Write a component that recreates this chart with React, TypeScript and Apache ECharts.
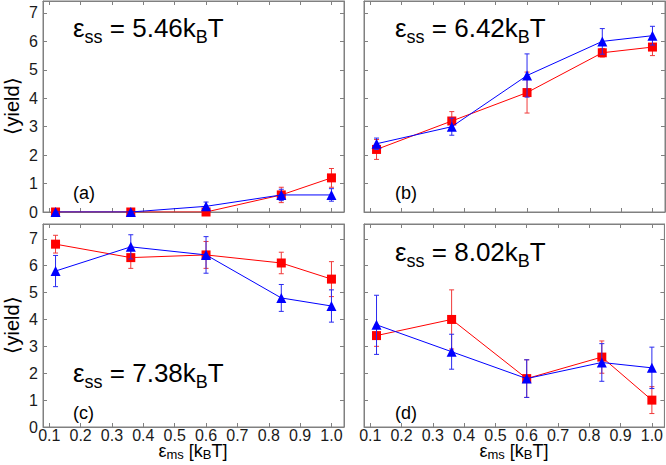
import React, { useEffect, useRef } from 'react';
import * as echarts from 'echarts';

const xValues = [0.12, 0.36, 0.6, 0.84, 1.0];
const xTicks = [0.1, 0.2, 0.3, 0.4, 0.5, 0.6, 0.7, 0.8, 0.9, 1.0];
const yTicks = [0, 1, 2, 3, 4, 5, 6, 7];
const energies = ['5.46', '6.42', '7.38', '8.02'];
const panelTags = ['(a)', '(b)', '(c)', '(d)'];

const redA = [0, 0, 0, 0.6, 1.2];
const redAErr = [0, 0, 0, 0.27, 0.33];
const blueA = [0, 0, 0.2, 0.6, 0.6];
const blueAErr = [0, 0, 0.15, 0.2, 0.22];

const redB = [2.2, 3.2, 4.2, 5.6, 5.8];
const redBErr = [0.35, 0.33, 0.72, 0.15, 0.3];
const blueB = [2.4, 3.0, 4.8, 6.0, 6.2];
const blueBErr = [0.2, 0.3, 0.76, 0.45, 0.33];

const redC = [6.8, 6.3, 6.4, 6.1, 5.5];
const redCErr = [0.33, 0.4, 0.5, 0.4, 0.65];
const blueC = [5.8, 6.7, 6.4, 4.8, 4.5];
const blueCErr = [0.58, 0.45, 0.68, 0.5, 0.6];

const redD = [3.4, 4.0, 1.8, 2.6, 1.0];
const redDErr = [0.4, 1.1, 0.7, 0.6, 0.5];
const blueD = [3.8, 2.8, 1.8, 2.4, 2.2];
const blueDErr = [1.1, 0.65, 0.7, 0.7, 0.77];

const redSets = [redA, redB, redC, redD];
const redErrs = [redAErr, redBErr, redCErr, redDErr];
const blueSets = [blueA, blueB, blueC, blueD];
const blueErrs = [blueAErr, blueBErr, blueCErr, blueDErr];

const FONT = "'Liberation Sans', Arial, Helvetica, sans-serif";
const RED = '#ff0000';
const BLUE = '#0000ff';
const RED_ERR = '#f03a3a';
const BLUE_ERR = '#2a2af0';
const FRAME = '#808080';

const grids = [
  { left: 43, top: 1, width: 301, height: 211 },
  { left: 364, top: 1, width: 301, height: 211 },
  { left: 43, top: 224, width: 301, height: 203 },
  { left: 364, top: 224, width: 301, height: 203 },
];
const yMax = [7.42, 7.42, 7.55, 7.55];

function buildOption() {
  const xAxis: any[] = [];
  const yAxis: any[] = [];
  const series: any[] = [];
  const lineStyle = { color: FRAME, width: 1 };
  for (let i = 0; i < 4; i++) {
    const xb = {
      type: 'value', gridIndex: i, min: 0.08, max: 1.04,
      splitLine: { show: false },
      axisLine: { show: true, onZero: false, lineStyle },
      axisTick: { show: true, inside: true, length: 4, customValues: xTicks, lineStyle },
    };
    xAxis.push({
      ...xb, position: 'bottom',
      axisLabel: {
        show: i >= 2, customValues: xTicks, margin: 0, fontSize: 16, color: '#1a1a1a', fontFamily: FONT,
        formatter: (v: number) => v.toFixed(1),
      },
    });
    xAxis.push({ ...xb, position: 'top', axisLabel: { show: false } });
    const yb = {
      type: 'value', gridIndex: i, min: 0, max: yMax[i],
      splitLine: { show: false },
      axisLine: { show: true, onZero: false, lineStyle },
      axisTick: { show: true, inside: true, length: 4, customValues: yTicks, lineStyle },
    };
    yAxis.push({
      ...yb, position: 'left',
      axisLabel: {
        show: i % 2 === 0, customValues: yTicks, margin: 5, fontSize: 16, color: '#1a1a1a', fontFamily: FONT,
      },
    });
    yAxis.push({ ...yb, position: 'right', axisLabel: { show: false } });

    const sets: [number[], number[], string, string, string, number][] = [
      [redSets[i], redErrs[i], RED, RED_ERR, 'rect', 9],
      [blueSets[i], blueErrs[i], BLUE, BLUE_ERR, 'triangle', 10],
    ];
    sets.forEach(([vals, errs, color, errColor, symbol, size], si) => {
      series.push({
        type: 'custom',
        xAxisIndex: 2 * i, yAxisIndex: 2 * i,
        silent: true,
        z: 2 + si * 2,
        data: xValues
          .map((x, k) => [x, vals[k] - errs[k], vals[k] + errs[k]])
          .filter((_, k) => errs[k] > 0),
        encode: { x: 0, y: [1, 2] },
        renderItem: (params: any, api: any) => {
          const x = api.value(0);
          const p1 = api.coord([x, api.value(1)]);
          const p2 = api.coord([x, api.value(2)]);
          const cw = 2.5;
          const st = { stroke: errColor, lineWidth: 1 };
          return {
            type: 'group',
            children: [
              { type: 'line', shape: { x1: p1[0], y1: p1[1], x2: p2[0], y2: p2[1] }, style: st },
              { type: 'line', shape: { x1: p1[0] - cw, y1: p1[1], x2: p1[0] + cw, y2: p1[1] }, style: st },
              { type: 'line', shape: { x1: p2[0] - cw, y1: p2[1], x2: p2[0] + cw, y2: p2[1] }, style: st },
            ],
          };
        },
      });
      series.push({
        type: 'line',
        xAxisIndex: 2 * i, yAxisIndex: 2 * i,
        z: 3 + si * 2,
        data: xValues.map((x, k) => [x, vals[k]]),
        symbol, symbolSize: size,
        showSymbol: true,
        itemStyle: { color },
        lineStyle: { color, width: 1 },
        silent: true,
      });
    });
  }

  const graphic: any[] = [];
  const annX = [73, 395, 73, 395];
  const annY = [10, 10, 355, 234];
  const tagY = [193, 193, 413, 413];
  for (let i = 0; i < 4; i++) {
    graphic.push({
      type: 'text', x: annX[i], y: annY[i], z: 100,
      style: {
        text: `{m|ε}{s|ss}{m| = ${energies[i]}k}{s|B}{m|T}`,
        verticalAlign: 'top',
        rich: {
          m: { fontSize: 26, lineHeight: 36, fontFamily: FONT, fill: '#000' },
          s: { fontSize: 18, lineHeight: 18, verticalAlign: 'bottom', fontFamily: FONT, fill: '#000' },
        },
      },
    });
    graphic.push({
      type: 'text', x: annX[i], y: tagY[i], z: 100,
      style: { text: panelTags[i], fontSize: 18, fontFamily: FONT, fill: '#000', verticalAlign: 'middle' },
    });
  }
  [106, 325].forEach((cy) => {
    graphic.push({
      type: 'text', x: 12, y: cy, rotation: Math.PI / 2, z: 100,
      style: { text: '⟨yield⟩', fontSize: 20, fontFamily: FONT, fill: '#000', align: 'center', verticalAlign: 'middle' },
    });
  });
  [193, 514].forEach((cx) => {
    graphic.push({
      type: 'text', x: cx, y: 441, z: 100,
      style: {
        text: '{m|ε}{s|ms}{m| [k}{s|B}{m|T]}',
        align: 'center', verticalAlign: 'top',
        rich: {
          m: { fontSize: 18, lineHeight: 20, fontFamily: FONT, fill: '#000' },
          s: { fontSize: 13, lineHeight: 13, verticalAlign: 'bottom', fontFamily: FONT, fill: '#000' },
        },
      },
    });
  });

  return {
    animation: false,
    backgroundColor: '#ffffff',
    grid: grids.map((g) => ({ ...g, show: true, borderColor: FRAME, borderWidth: 1, backgroundColor: 'transparent' })),
    xAxis, yAxis, series, graphic,
  };
}

export default function App() {
  const ref = useRef<HTMLDivElement>(null);
  useEffect(() => {
    if (!ref.current) return;
    const chart = echarts.init(ref.current, undefined, { renderer: 'svg' });
    chart.setOption(buildOption() as any);
    return () => chart.dispose();
  }, []);
  return (
    <div
      ref={ref}
      style={{ position: 'fixed', left: 0, top: 0, width: 666, height: 465, background: '#fff' }}
    />
  );
}
